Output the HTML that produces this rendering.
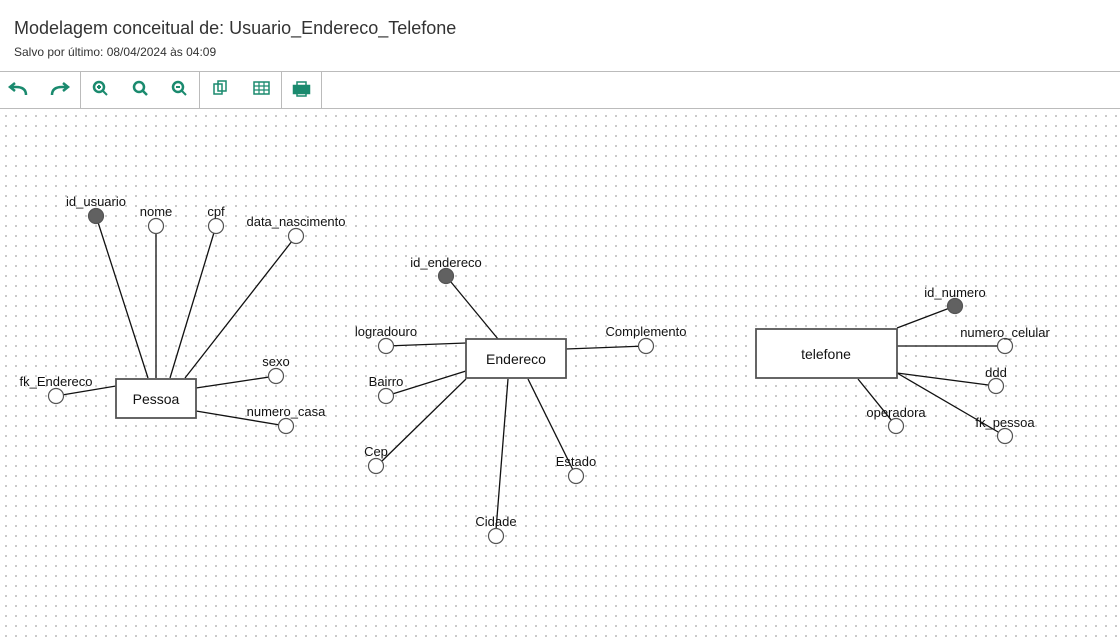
<!DOCTYPE html>
<html><head><meta charset="utf-8"><style>
body{margin:0;width:1120px;height:638px;overflow:hidden;background:#fff;font-family:"Liberation Sans",sans-serif;}
.t{position:absolute;left:14px;top:18px;font-size:18px;color:#333;}
.s{position:absolute;left:14px;top:45px;font-size:12px;color:#333;}
.tb{position:absolute;left:0;top:71px;width:1120px;height:36px;border-top:1px solid #bbb;border-bottom:1px solid #bbb;}
.sep{position:absolute;top:0;width:1px;height:36px;background:#bbb;}
.canvas{position:absolute;left:0;top:109px;width:1120px;height:529px;background-image:radial-gradient(circle,#b8b8b8 0.8px,transparent 1px);background-size:10px 10px;background-position:1px 2px;}
svg{position:absolute;left:0;top:0;}
</style></head><body>
<div class="t">Modelagem conceitual de: Usuario_Endereco_Telefone</div>
<div class="s">Salvo por último: 08/04/2024 às 04:09</div>
<div class="tb">
<div class="sep" style="left:80px"></div><div class="sep" style="left:199px"></div><div class="sep" style="left:281px"></div><div class="sep" style="left:321px"></div>
<svg width="330" height="36" style="top:0" fill="none" stroke="#1a8a6e" stroke-width="2.5">
<path d="M26 23 q0-8 -10-8 h-4 M15 11 l-5 4 5 4" />
<path d="M52 23 q0-8 10-8 h4 M63 11 l5 4 -5 4"/>
<circle cx="99" cy="15" r="5"/><path d="M103 19 l4 4 M97 15h4 M99 13v4" stroke-width="2"/>
<circle cx="139" cy="15" r="5"/><path d="M143 19 l4 4"/>
<circle cx="178" cy="15" r="5"/><path d="M182 19 l4 4 M176 15h4" stroke-width="2"/>
<rect x="214" y="12" width="8" height="10" stroke-width="1.5"/><rect x="218" y="9" width="8" height="10" stroke-width="1.5"/>
<rect x="254" y="10" width="15" height="12" stroke-width="1.5"/><path d="M254 14h15 M254 18h15 M259 10v12 M264 10v12" stroke-width="1.2"/>
<rect x="294" y="14" width="15" height="7" fill="#1a8a6e"/><rect x="297" y="10" width="9" height="4" stroke-width="1.5"/><rect x="297" y="20" width="9" height="4" stroke-width="1.5"/>
</svg>
</div>
<div class="canvas"></div>
<svg width="1120" height="638" font-family="Liberation Sans, sans-serif" font-size="13" fill="#111">
<g stroke="#111" stroke-width="1.3">
<line x1="96" y1="216" x2="148" y2="378"/><line x1="156" y1="226" x2="156" y2="378"/><line x1="216" y1="226" x2="170" y2="378"/><line x1="296" y1="236" x2="185" y2="378"/>
<line x1="276" y1="376" x2="196" y2="388"/><line x1="286" y1="426" x2="196" y2="411"/><line x1="56" y1="396" x2="116" y2="386"/>
<line x1="446" y1="276" x2="498" y2="339"/><line x1="386" y1="346" x2="466" y2="343"/><line x1="386" y1="396" x2="466" y2="371"/><line x1="382" y1="461" x2="466" y2="379"/>
<line x1="496" y1="530" x2="508" y2="379"/><line x1="576" y1="476" x2="528" y2="379"/><line x1="646" y1="346" x2="566" y2="349"/>
<line x1="955" y1="306" x2="897" y2="328"/><line x1="1005" y1="346" x2="897" y2="346"/><line x1="996" y1="386" x2="897" y2="373"/><line x1="1005" y1="436" x2="897" y2="373"/><line x1="896" y1="426" x2="858" y2="379"/>
</g>
<g stroke="#555" stroke-width="1.8" fill="#fff">
<rect x="116" y="379" width="80" height="39"/><rect x="466" y="339" width="100" height="39"/><rect x="756" y="329" width="141" height="49"/>
</g>
<g stroke="#555" stroke-width="1.2" fill="#fff">
<circle cx="96" cy="216" r="7.5" fill="#616161"/><circle cx="156" cy="226" r="7.5"/><circle cx="216" cy="226" r="7.5"/><circle cx="296" cy="236" r="7.5"/>
<circle cx="276" cy="376" r="7.5"/><circle cx="286" cy="426" r="7.5"/><circle cx="56" cy="396" r="7.5"/>
<circle cx="446" cy="276" r="7.5" fill="#616161"/><circle cx="386" cy="346" r="7.5"/><circle cx="386" cy="396" r="7.5"/><circle cx="376" cy="466" r="7.5"/>
<circle cx="496" cy="536" r="7.5"/><circle cx="576" cy="476" r="7.5"/><circle cx="646" cy="346" r="7.5"/>
<circle cx="955" cy="306" r="7.5" fill="#616161"/><circle cx="1005" cy="346" r="7.5"/><circle cx="996" cy="386" r="7.5"/><circle cx="1005" cy="436" r="7.5"/><circle cx="896" cy="426" r="7.5"/>
</g>
<g font-size="14" text-anchor="middle"><text x="156" y="404">Pessoa</text><text x="516" y="364">Endereco</text><text x="826" y="359">telefone</text></g>
<g text-anchor="middle">
<text x="96" y="206">id_usuario</text><text x="156" y="216">nome</text><text x="216" y="216">cpf</text><text x="296" y="226">data_nascimento</text>
<text x="276" y="366">sexo</text><text x="286" y="416">numero_casa</text><text x="56" y="386">fk_Endereco</text>
<text x="446" y="267">id_endereco</text><text x="386" y="336">logradouro</text><text x="386" y="386">Bairro</text><text x="376" y="456">Cep</text>
<text x="496" y="526">Cidade</text><text x="576" y="466">Estado</text><text x="646" y="336">Complemento</text>
<text x="955" y="297">id_numero</text><text x="1005" y="337">numero_celular</text><text x="996" y="377">ddd</text><text x="1005" y="427">fk_pessoa</text><text x="896" y="417">operadora</text>
</g>
</svg>
</body></html>
